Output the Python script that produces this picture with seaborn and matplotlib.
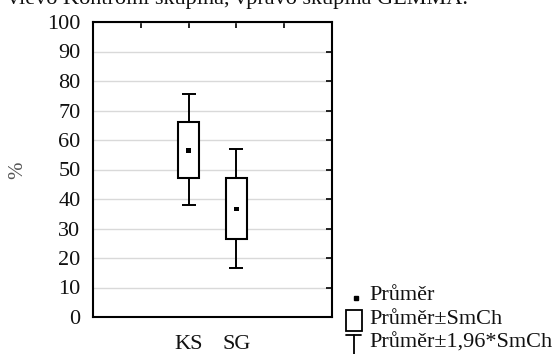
import matplotlib
matplotlib.use("Agg")
import matplotlib.pyplot as plt
import pandas as pd
import seaborn as sns
from matplotlib.lines import Line2D
from matplotlib.patches import Rectangle

# values
groups = ["KS", "SG"]
positions = [2, 3]
means = [56.5, 36.7]
se_low = [47.0, 26.5]
se_high = [66.1, 47.1]
ci_low = [38.0, 16.5]
ci_high = [75.5, 56.8]

y_ticks = list(range(0, 101, 10))
x_ticks = [1, 2, 3, 4]
x_tick_labels = ["", "KS", "SG", ""]
legend_labels = ["Průměr", "Průměr±SmCh", "Průměr±1,96*SmCh"]
header = "vlevo Kontrolní skupina, vpravo skupina GEMMA."

df = pd.DataFrame({
    "group": groups, "x": positions, "mean": means,
    "se_low": se_low, "se_high": se_high, "ci_low": ci_low, "ci_high": ci_high,
})

sns.set_style("white")
plt.rcParams["font.family"] = ["Liberation Serif", "DejaVu Serif"]

W, H = 552, 354
fig = plt.figure(figsize=(W / 100, H / 100), dpi=100)
ax = fig.add_axes([93 / W, 1 - 317 / H, (332 - 93) / W, (317 - 22) / H])


def fx(px):
    return px / W


def fy(py):
    return 1 - py / H


# whiskers (mean ± 1.96*SE)
ax.errorbar(df["x"], df["mean"],
            yerr=[df["mean"] - df["ci_low"], df["ci_high"] - df["mean"]],
            fmt="none", ecolor="black", elinewidth=1.4, capsize=5, capthick=1.4, zorder=2)
# boxes (mean ± SE)
ax.bar(df["x"], df["se_high"] - df["se_low"], bottom=df["se_low"], width=0.44,
       color="white", edgecolor="black", linewidth=1.5, zorder=3)
# mean points
sns.scatterplot(data=df, x="x", y="mean", marker="s", s=10, color="black",
                edgecolor="none", ax=ax, zorder=4, legend=False)

ax.set_xlim(0, 5)
ax.set_ylim(0, 100)
ax.set_yticks(y_ticks)
ax.set_xticks(x_ticks)
ax.set_xticklabels(x_tick_labels)
ax.set_xlabel("")
ax.set_ylabel("")
ax.yaxis.grid(True, color="#d9d9d9", linewidth=1)
ax.set_axisbelow(True)
for s in ax.spines.values():
    s.set_visible(True)
    s.set_color("black")
    s.set_linewidth(1.5)
ax.tick_params(axis="both", direction="in", length=4, width=1.2, color="black",
               top=True, right=True, labelsize=16, labelcolor="#111111")
ax.tick_params(axis="y", pad=9)
ax.tick_params(axis="x", pad=13)

fig.text(fx(18), fy(170), "%", rotation=90, fontsize=15, color="#555555",
         ha="center", va="center")
fig.text(fx(8), fy(4), header, fontsize=16, color="#111111", ha="left", va="baseline")

# legend drawn by hand
fig.add_artist(Line2D([fx(356)], [fy(298)], marker="s", markersize=2.5,
                      color="black", transform=fig.transFigure))
fig.add_artist(Rectangle((fx(346), fy(331)), fx(16), (331 - 310) / H, fill=False,
                         edgecolor="black", linewidth=1.3, transform=fig.transFigure))
fig.add_artist(Line2D([fx(346), fx(361)], [fy(335), fy(335)], color="black",
                      linewidth=1.3, transform=fig.transFigure))
fig.add_artist(Line2D([fx(353.5), fx(353.5)], [fy(335), fy(356)], color="black",
                      linewidth=1.3, transform=fig.transFigure))
for label, py in zip(legend_labels, [296, 320, 343]):
    fig.text(fx(369), fy(py), label, fontsize=16, color="#111111", ha="left", va="center")

fig.savefig("out.png", dpi=100)
